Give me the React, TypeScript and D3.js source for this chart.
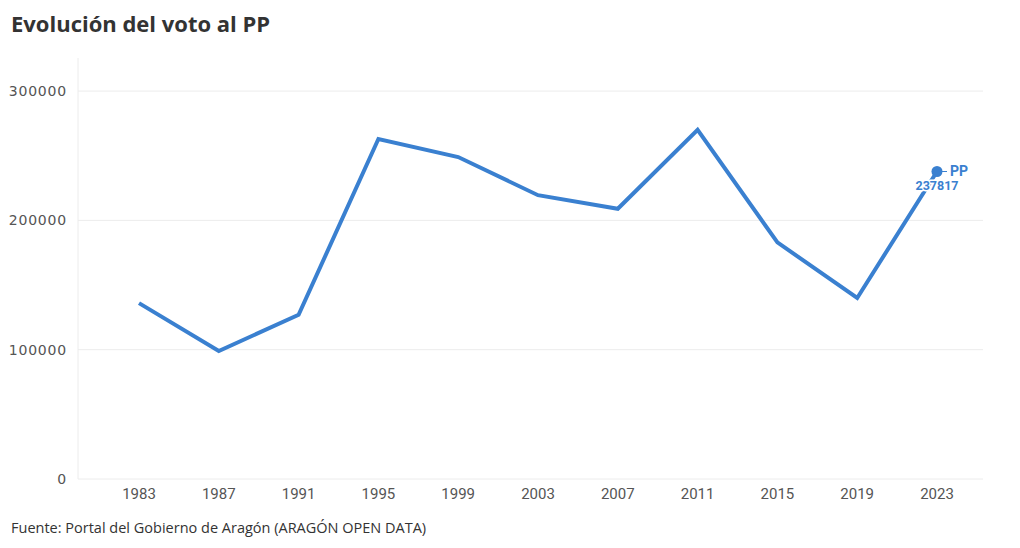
import React from "react";
import * as d3 from "d3";

const years = [1983, 1987, 1991, 1995, 1999, 2003, 2007, 2011, 2015, 2019, 2023];
const votes = [136000, 99000, 127000, 263000, 249000, 219500, 209000, 270000, 183000, 140000, 237817];
const yTicks = [0, 100000, 200000, 300000];
const seriesName = "PP";
const title = "Evolución del voto al PP";
const source = "Fuente: Portal del Gobierno de Aragón (ARAGÓN OPEN DATA)";

const W = 1020, H = 548;
const left = 78, right = 983, top = 58, bottom = 479;
const color = "#3a80d0";

export default function App() {
  const x = d3.scaleLinear().domain([1983, 2023]).range([139, 937]);
  const y = d3.scaleLinear().domain([0, 325600]).range([bottom, top]);
  const data = years.map((yr, i) => ({ yr, v: votes[i] }));
  const line = d3.line<{ yr: number; v: number }>().x(d => x(d.yr)).y(d => y(d.v));
  const last = data[data.length - 1];
  const lx = x(last.yr), ly = y(last.v);
  return (
    <svg width={W} height={H} style={{ position: "absolute", left: 0, top: 0, background: "#fff" }}>
      <text x={11} y={32} fontFamily="'Open Sans', sans-serif" fontWeight={700} fontSize={22} fill="#333">{title}</text>
      <line x1={left} x2={left} y1={top} y2={bottom} stroke="#ececec" />
      {yTicks.map(t => (
        <g key={t}>
          <line x1={left} x2={right} y1={y(t)} y2={y(t)} stroke="#ececec" />
          <text x={67} y={y(t)} dy="0.35em" textAnchor="end" fontFamily="DejaVu Sans, sans-serif" fontSize={14} letterSpacing={0.8} fill="#555">{t}</text>
        </g>
      ))}
      {years.map(yr => (
        <text key={yr} x={x(yr)} y={499} textAnchor="middle" fontFamily="Roboto, sans-serif" fontSize={15} fill="#555">{yr}</text>
      ))}
      <path d={line(data) || ""} fill="none" stroke={color} strokeWidth={4} strokeLinejoin="miter" />
      <circle cx={lx} cy={ly} r={5.5} fill={color} />
      <line x1={lx + 5} x2={lx + 10} y1={ly} y2={ly} stroke={color} strokeWidth={1} />
      <text x={lx + 13} y={ly} dy="0.35em" fontFamily="Roboto, sans-serif" fontWeight={700} fontSize={14} fill={color}>{seriesName}</text>
      <text x={lx} y={ly + 14} dy="0.35em" textAnchor="middle" fontFamily="Roboto, sans-serif" fontWeight={700} fontSize={12.5} fill={color} stroke="#fff" strokeWidth={3} paintOrder="stroke" strokeLinejoin="round">{last.v}</text>
      <text x={11} y={533} fontFamily="'Open Sans', sans-serif" fontSize={14.5} fill="#333">{source}</text>
    </svg>
  );
}
